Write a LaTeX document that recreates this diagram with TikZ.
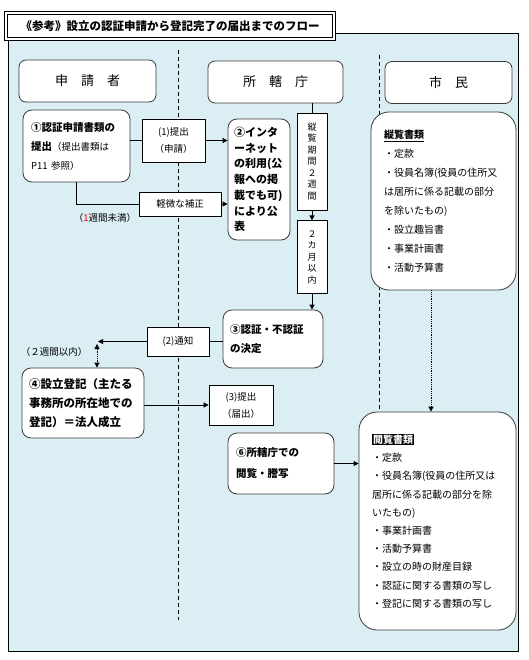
\documentclass[tikz,border=0pt]{standalone}
\usepackage{fontspec}
\setmainfont{Noto Sans CJK JP}
\usetikzlibrary{positioning}
\usetikzlibrary{arrows.meta}
\setlength{\fboxsep}{1pt}
\definecolor{panelblue}{HTML}{DAEEF3}
\definecolor{edgegray}{HTML}{3A3A3A}

\begin{document}
\begin{tikzpicture}[x=1pt, y=-1pt, line width=0.8pt,
  font=\fontsize{10}{18}\selectfont,
  lane/.style={draw=edgegray, fill=white, rounded corners=7pt, minimum height=42pt, font=\fontsize{13}{15}\selectfont},
  stepbox/.style={draw=edgegray, fill=white, rounded corners=9pt, align=left, inner xsep=8pt, inner ysep=0pt, font=\bfseries\fontsize{10.5}{19}\selectfont},
  tag/.style={draw, fill=white, align=center, inner sep=0pt, font=\fontsize{9.5}{17}\selectfont},
  vtag/.style={tag, minimum width=30pt, font=\fontsize{9}{11.5}\selectfont},
  docs/.style={draw=edgegray, fill=white, rounded corners=18pt, align=left, inner xsep=13pt, inner ysep=0pt, font=\fontsize{10}{19}\selectfont},
  flow/.style={-{Triangle[length=5pt,width=5pt]}},
  note/.style={inner sep=0pt, font=\fontsize{9.5}{11}\selectfont}
]
\useasboundingbox (0,0) rectangle (529,660);

% panel and lanes
\draw[fill=panelblue] (8,33) rectangle (518,651);
\draw[dash pattern=on 4pt off 3pt] (178,50) -- (178,620);
\draw[dash pattern=on 4pt off 3pt] (379,55) -- (379,420);

% title
\node[draw, double, double distance=1.5pt, fill=white, minimum width=328pt, minimum height=26pt,
  font=\bfseries\fontsize{11.5}{13}\selectfont] (title) at (170,26)
  {《参考》設立の認証申請から登記完了の届出までのフロー};

% lane heads
\node[lane, minimum width=137pt] (applicant) at (87.5,81) {申　請　者};
\node[lane, minimum width=135pt] (office) at (275.5,82) {所　轄　庁};
\node[lane, minimum width=127pt] (citizen) at (448.5,82.5) {市　民};

% step 1
\node[stepbox, text width=91pt, minimum height=72pt] (step1) at (76.5,146)
  {①認証申請書類の\\提出{\mdseries\fontsize{9.5}{19}\selectfont （提出書類は}\\{\mdseries\fontsize{9.5}{19}\selectfont P11 参照）}};
\node[tag, minimum width=63pt, minimum height=43pt] (apply) at (173.5,140.5) {(1)提出\\（申請）};
\node[tag, minimum width=82pt, minimum height=24pt] (fix) at (180,204) {軽微な補正};
\node[note] (fixnote) at (105,218) {（\textcolor{red}{1}週間未満）};

% step 2
\node[stepbox, text width=50pt, inner xsep=6pt, minimum height=121pt,
  font=\bfseries\fontsize{11}{15.7}\selectfont] (publish) at (259,179.5)
  {②インタ\\ーネット\\の利用(公\\報への掲\\載でも可)\\により公\\表};
\draw (step1.east |- apply) -- (apply.west);
\draw[flow] (apply.east) -- (apply.east -| publish.west);
\draw (step1.south) |- (fix.west);
\draw[flow] (fix.east) -- (fix.east -| publish.west);

% review period
\node[vtag, minimum height=97pt] (review) at (312,161.5) {縦\\覧\\期\\間\\２\\週\\間};
\node[vtag, minimum height=73pt, below=10pt of review] (months) {２\\カ\\月\\以\\内};
\draw (office.south -| review) -- (review.north);
\draw[flow] (review.south) -- (months.north);

% step 3
\node[stepbox, text width=86pt, inner xsep=7pt, minimum height=58pt] (decide) at (273,339)
  {③認証・不認証\\の決定};
\draw[flow] (months.south) -- (months.south |- decide.north);
\node[tag, minimum width=62pt, minimum height=29pt] (notice) at (178,341.5) {(2)通知};
\coordinate (ack) at (98,341.5);
\coordinate (ack-v) at (97,344);
\draw (decide.west |- notice) -- (notice.east);
\draw[flow] (notice.west) -- (ack);
\node[note] (acknote) at (54,352) {（２週間以内）};

% step 4
\node[stepbox, text width=108pt, inner xsep=7pt, minimum height=70pt,
  font=\bfseries\fontsize{11.5}{19}\selectfont] (register) at (83,403)
  {④設立登記（主たる\\事務所の所在地での\\登記）＝法人成立};
\draw[densely dotted, {Triangle[length=5pt,width=5pt]}-{Triangle[length=5pt,width=5pt]}] (ack-v) -- (ack-v |- register.north);
\node[tag, minimum width=64pt, minimum height=40pt] (file) at (241,405) {(3)提出\\（届出）};
\draw[flow] (register.east |- file) -- (file.west);

% citizen documents
\node[docs, text width=119pt, minimum height=178pt] (reviewdocs) at (443.5,201)
  {\textbf{\underline{縦覧書類}}\\・定款\\・役員名簿(役員の住所又\\は居所に係る記載の部分\\を除いたもの)\\・設立趣旨書\\・事業計画書\\・活動予算書};
\node[docs, text width=131pt, minimum height=218pt, font=\fontsize{10}{18.2}\selectfont] (viewdocs) at (437.5,521)
  {\colorbox{black}{\textcolor{white}{\textbf{閲覧書類}}}\\・定款\\・役員名簿(役員の住所又は\\居所に係る記載の部分を除\\いたもの)\\・事業計画書\\・活動予算書\\・設立の時の財産目録\\・認証に関する書類の写し\\・登記に関する書類の写し};
\draw[densely dotted, flow] ([xshift=-12.5pt]reviewdocs.south) -- ([xshift=-12.5pt]reviewdocs.south |- viewdocs.north);

% step 6
\node[stepbox, text width=90pt, minimum height=61pt,
  font=\bfseries\fontsize{10.5}{21}\selectfont] (view) at (281,463.5)
  {⑥所轄庁での\\閲覧・謄写};
\draw[flow] (view.east) -- (view.east -| viewdocs.west);
\end{tikzpicture}
\end{document}
